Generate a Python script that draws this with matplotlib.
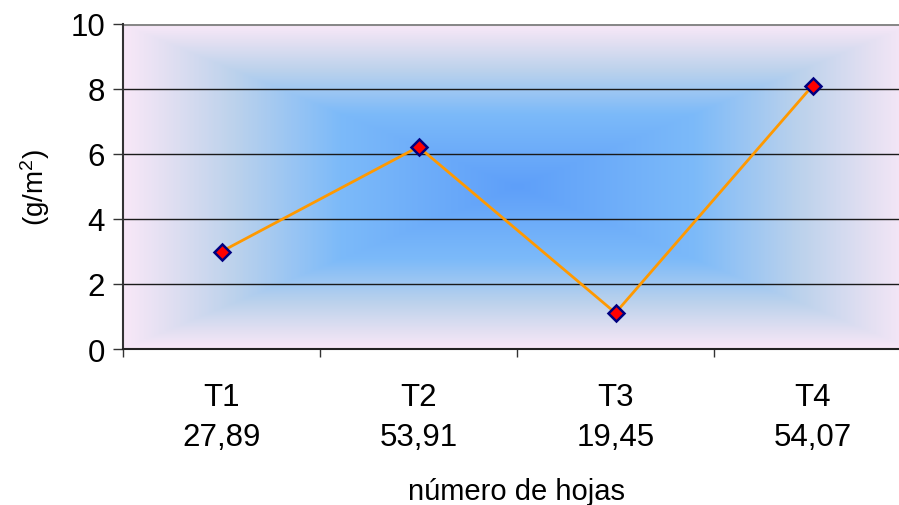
import numpy as np
import matplotlib
matplotlib.use("Agg")
import matplotlib.pyplot as plt
from matplotlib.colors import LinearSegmentedColormap

plt.rcParams['font.family'] = ['Liberation Sans', 'DejaVu Sans']
plt.rcParams['mathtext.default'] = 'regular'

# Data
treatments = ["T1", "T2", "T3", "T4"]
leaf_counts = ["27,89", "53,91", "19,45", "54,07"]
values = [3.0, 6.22, 1.11, 8.1]
y_ticks = [0, 2, 4, 6, 8, 10]

W, H = 899, 506
fig = plt.figure(figsize=(W / 100, H / 100), dpi=100)
ax = fig.add_axes([123 / W, (H - 350) / H, 788 / W, 325 / H])

x = np.arange(1, len(treatments) + 1)

# Rectangular "from centre" gradient background
nx, ny = 400, 200
gx = np.linspace(-1, 1, nx)
gy = np.linspace(-1, 1, ny)
GX, GY = np.meshgrid(gx, gy)
T = np.maximum(np.abs(GX), np.abs(GY))
grad = LinearSegmentedColormap.from_list(
    "bg",
    [(0.0, "#5e9ffa"), (0.45, "#7cbaf9"), (0.72, "#bcd2ec"), (0.9, "#e4e0f2"), (1.0, "#f8e8f8")],
)
ax.imshow(T, cmap=grad, vmin=0, vmax=1, extent=[0.5, 4.5, 0, 10],
          aspect="auto", origin="lower", zorder=0, interpolation="bilinear")

# Gridlines
for yv in y_ticks[1:-1]:
    ax.axhline(yv, color="#1a1a1a", lw=1.0, zorder=1)
ax.axhline(10, color="#888888", lw=2.2, zorder=1)

ax.plot(x, values, color="#ff9900", lw=2.0, zorder=3,
        marker="D", markersize=8.5, markerfacecolor="#ff0000",
        markeredgecolor="#000080", markeredgewidth=1.8)

ax.set_xlim(0.5, 4.5)
ax.set_ylim(0, 10)
ax.set_yticks(y_ticks)
ax.set_yticklabels([str(v) for v in y_ticks], fontsize=22.5)

ax.set_xticks(x)
ax.set_xticklabels([f"{t}\n{c}" for t, c in zip(treatments, leaf_counts)],
                   fontsize=22.5, linespacing=1.4)
ax.set_xticks(np.arange(0.5, 4.6, 1.0), minor=True)
ax.tick_params(axis="x", which="major", length=0, pad=24)
ax.tick_params(axis="x", which="minor", length=6, width=1.0, color="#333333", direction="out")
ax.tick_params(axis="y", length=7, width=1.0, color="#333333", direction="out", pad=6)

for s in ["top", "right"]:
    ax.spines[s].set_visible(False)
ax.spines["left"].set_color("#333333")
ax.spines["left"].set_linewidth(1.5)
ax.spines["bottom"].set_color("#222222")
ax.spines["bottom"].set_linewidth(1.5)

ax.set_xlabel("número de hojas", fontsize=21, labelpad=18)
ax.set_ylabel("(g/m$^{2}$)", fontsize=20, labelpad=13)

fig.savefig("out.png", dpi=100)
